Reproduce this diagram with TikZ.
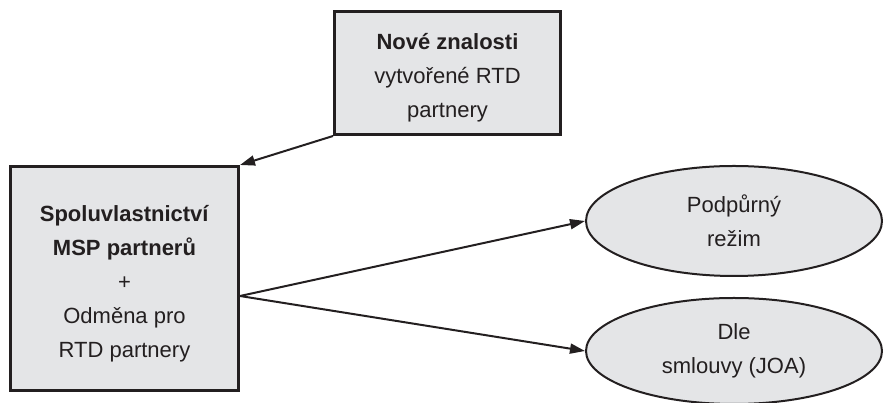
\documentclass[tikz,border=0pt]{standalone}
\usepackage{fontspec}
\setmainfont{Liberation Sans}
\usetikzlibrary{arrows.meta,shapes.geometric}
\definecolor{ink}{HTML}{231F20}
\definecolor{boxfill}{HTML}{E4E5E7}
\begin{document}
\begin{tikzpicture}[x=1pt,y=1pt,
  every node/.style={text=ink,font=\fontsize{22}{34}\selectfont,align=center},
  sqbox/.style={draw=ink,fill=boxfill,line width=3pt,rectangle,inner sep=0pt},
  oval/.style={draw=ink,fill=boxfill,line width=2pt,ellipse,inner sep=0pt},
  caption/.style={inner sep=0pt},
  link/.style={draw=ink,line width=2pt,-{Triangle[length=15pt,width=10pt]}}]
\useasboundingbox (0,0) rectangle (883,403);
% boxes
\node[sqbox,minimum width=226,minimum height=123] (know) at (447.5,330) {};
\node[caption] (knowtext) at ([yshift=-5pt]know.center)
  {\textbf{Nové znalosti}\\vytvořené RTD\\partnery};
\node[sqbox,minimum width=228,minimum height=224] (own) at (124.5,124.5) {};
\node[caption] (owntext) at ([yshift=-5pt]own.center)
  {\textbf{Spoluvlastnictví}\\\textbf{MSP partnerů}\\+\\Odměna pro\\RTD partnery};
% outcomes
\node[oval,minimum width=296,minimum height=110] (supp) at (734,182)
  {Podpůrný\\režim};
\node[oval,minimum width=296,minimum height=106] (joa) at (734,52)
  {Dle\\smlouvy (JOA)};
% connectors
\coordinate (split) at ([yshift=-17.5pt]own.east);
\draw[link] (know.south west) -- (own.north east);
\draw[link] (split) -- (supp.west);
\draw[link] (split) -- (joa.west);
\end{tikzpicture}
\end{document}
